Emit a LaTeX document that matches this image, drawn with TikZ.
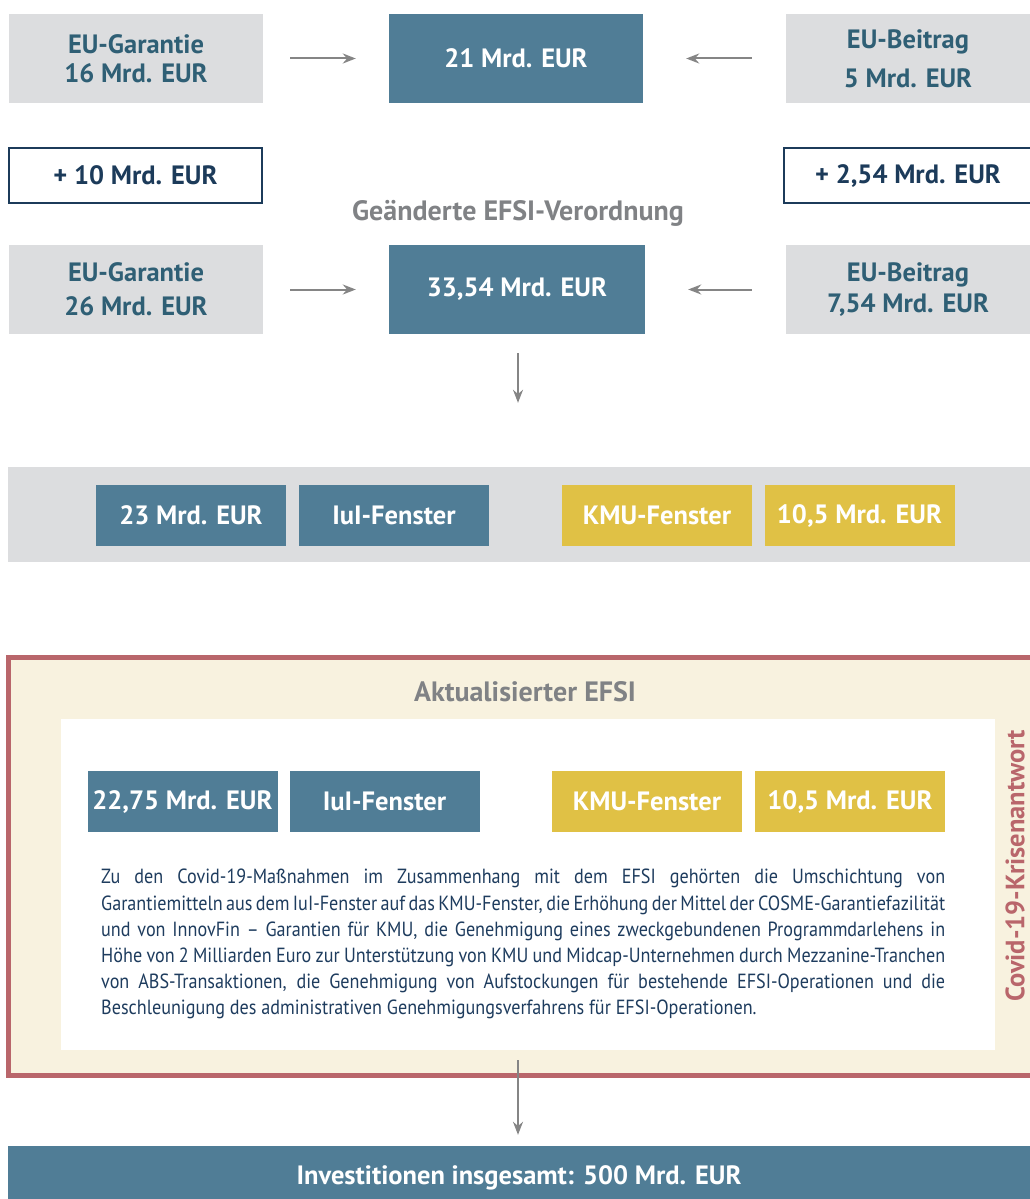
\documentclass[tikz,border=0pt]{standalone}
\usepackage{fontspec}
\setmainfont{PT Sans}
\newfontfamily\condfont[FakeStretch=0.885]{PT Sans}
\usetikzlibrary{arrows.meta}
\definecolor{boxgray}{HTML}{DCDDDF}
\definecolor{boxblue}{HTML}{507D96}
\definecolor{boxyellow}{HTML}{E0C145}
\definecolor{tealtxt}{HTML}{2F5F75}
\definecolor{navy}{HTML}{1C3B5A}
\definecolor{graytxt}{HTML}{808285}
\definecolor{rose}{HTML}{B9666B}
\definecolor{cream}{HTML}{F8F2DF}
\definecolor{paratxt}{HTML}{1E3C5E}
\definecolor{arrowgray}{HTML}{858585}
\tikzset{
  lbl/.style={font=\fontsize{26.5}{29}\selectfont\bfseries, align=center, inner sep=0pt},
  graybox/.style={lbl, fill=boxgray, text=tealtxt, minimum height=89pt},
  bluebox/.style={lbl, fill=boxblue, text=white},
  yellowbox/.style={lbl, fill=boxyellow, text=white},
  plusbox/.style={lbl, draw=navy, line width=2pt, fill=white, text=navy, minimum height=55pt},
  smallbox/.style={minimum width=190pt, minimum height=61pt},
  flow/.style={draw=arrowgray, line width=2pt, -{Stealth[length=13pt,width=10pt]}},
  heading/.style={font=\fontsize{28}{32}\selectfont\bfseries, text=graytxt, inner sep=0pt}
}
\begin{document}
\begin{tikzpicture}[x=1pt,y=-1pt]
\useasboundingbox (0,0) rectangle (1030,1199);
% top row
\node[graybox, minimum width=254pt] (g1) at (136,58.5) {EU-Garantie\\[0pt]16 Mrd. EUR};
\node[bluebox, minimum width=254pt, minimum height=89pt] (c1) at (516,58.5) {21 Mrd. EUR};
\node[graybox, minimum width=244pt] (b1) at (908,58.5) {EU-Beitrag\\[10pt]5 Mrd. EUR};
\draw[flow, shorten <=27pt, shorten >=33pt] (g1.east) -- (c1.west);
\draw[flow, shorten <=34pt, shorten >=43pt] (b1.west) -- (c1.east);
% plus boxes
\node[plusbox, minimum width=253pt] (p1) at (135.5,175.5) {+ 10 Mrd. EUR};
\node[plusbox, minimum width=248pt] (p2) at (908,175.5) {+ 2,54 Mrd. EUR};
\node[heading] (h1) at (518,213) {Geänderte EFSI-Verordnung};
% second row
\node[graybox, minimum width=254pt] (g2) at (136,289.5) {EU-Garantie\\[5pt]26 Mrd. EUR};
\node[bluebox, minimum width=256pt, minimum height=89pt] (c2) at (517,289.5) {33,54 Mrd. EUR};
\node[graybox, minimum width=244pt] (b2) at (908,289.5) {EU-Beitrag\\[2pt]7,54 Mrd. EUR};
\draw[flow, shorten <=27pt, shorten >=33pt] (g2.east) -- (c2.west);
\draw[flow, shorten <=34pt, shorten >=43pt] (b2.west) -- (c2.east);
% band
\node[fill=boxgray, minimum width=1022pt, minimum height=95pt, inner sep=0pt] (band) at (519,514.5) {};
\draw[flow, shorten <=19pt, shorten >=64pt] (c2.south -| 518,0) -- (band.north -| 518,0);
\node[bluebox, smallbox] (a1) at (191,515.5) {23 Mrd. EUR};
\node[bluebox, smallbox] (a2) at (394,515.5) {IuI-Fenster};
\node[yellowbox, smallbox] (a3) at (657,515.5) {KMU-Fenster};
\node[yellowbox, smallbox] (a4) at (859.5,515.5) {10,5 Mrd. EUR};
% covid frame
\node[draw=rose, line width=5pt, fill=cream, minimum width=1024pt, minimum height=418pt, inner sep=0pt] (frame) at (520.5,866.5) {};
\node[heading] (h2) at (525,692) {Aktualisierter EFSI};
\node[fill=white, minimum width=934pt, minimum height=331pt, inner sep=0pt] (white) at (528,884.5) {};
\node[bluebox, smallbox] (d1) at (182.5,801.5) {22,75 Mrd. EUR};
\node[bluebox, smallbox] (d2) at (384.5,801.5) {IuI-Fenster};
\node[yellowbox, smallbox] (d3) at (647,801.5) {KMU-Fenster};
\node[yellowbox, smallbox] (d4) at (850,801.5) {10,5 Mrd. EUR};
\node[anchor=north west, inner sep=0pt, text=paratxt, font=\condfont\fontsize{20.5}{26.2}\selectfont, align=left] (para) at (101,869) {%
\makebox[844pt][s]{Zu den Covid-19-Maßnahmen im Zusammenhang mit dem EFSI gehörten die Umschichtung von}\\
\makebox[844pt][s]{Garantiemitteln aus dem IuI-Fenster auf das KMU-Fenster, die Erhöhung der Mittel der COSME-Garantiefazilität}\\
\makebox[844pt][s]{und von InnovFin – Garantien für KMU, die Genehmigung eines zweckgebundenen Programmdarlehens in}\\
\makebox[844pt][s]{Höhe von 2 Milliarden Euro zur Unterstützung von KMU und Midcap-Unternehmen durch Mezzanine-Tranchen}\\
\makebox[844pt][s]{von ABS-Transaktionen, die Genehmigung von Aufstockungen für bestehende EFSI-Operationen und die}\\
\makebox[844pt][l]{Beschleunigung des administrativen Genehmigungsverfahrens für EFSI-Operationen.}};
\node[rotate=90, font=\fontsize{26.5}{30}\selectfont\bfseries, text=rose, inner sep=0pt] (covid) at (1015,866) {Covid-19-Krisenantwort};
% bottom
\node[bluebox, minimum width=1022pt, minimum height=64pt] (inv) at (519,1178) {Investitionen insgesamt: 500 Mrd. EUR};
\draw[flow, shorten <=10pt, shorten >=11pt] (white.south -| 518,0) -- (inv.north -| 518,0);
\end{tikzpicture}
\end{document}
